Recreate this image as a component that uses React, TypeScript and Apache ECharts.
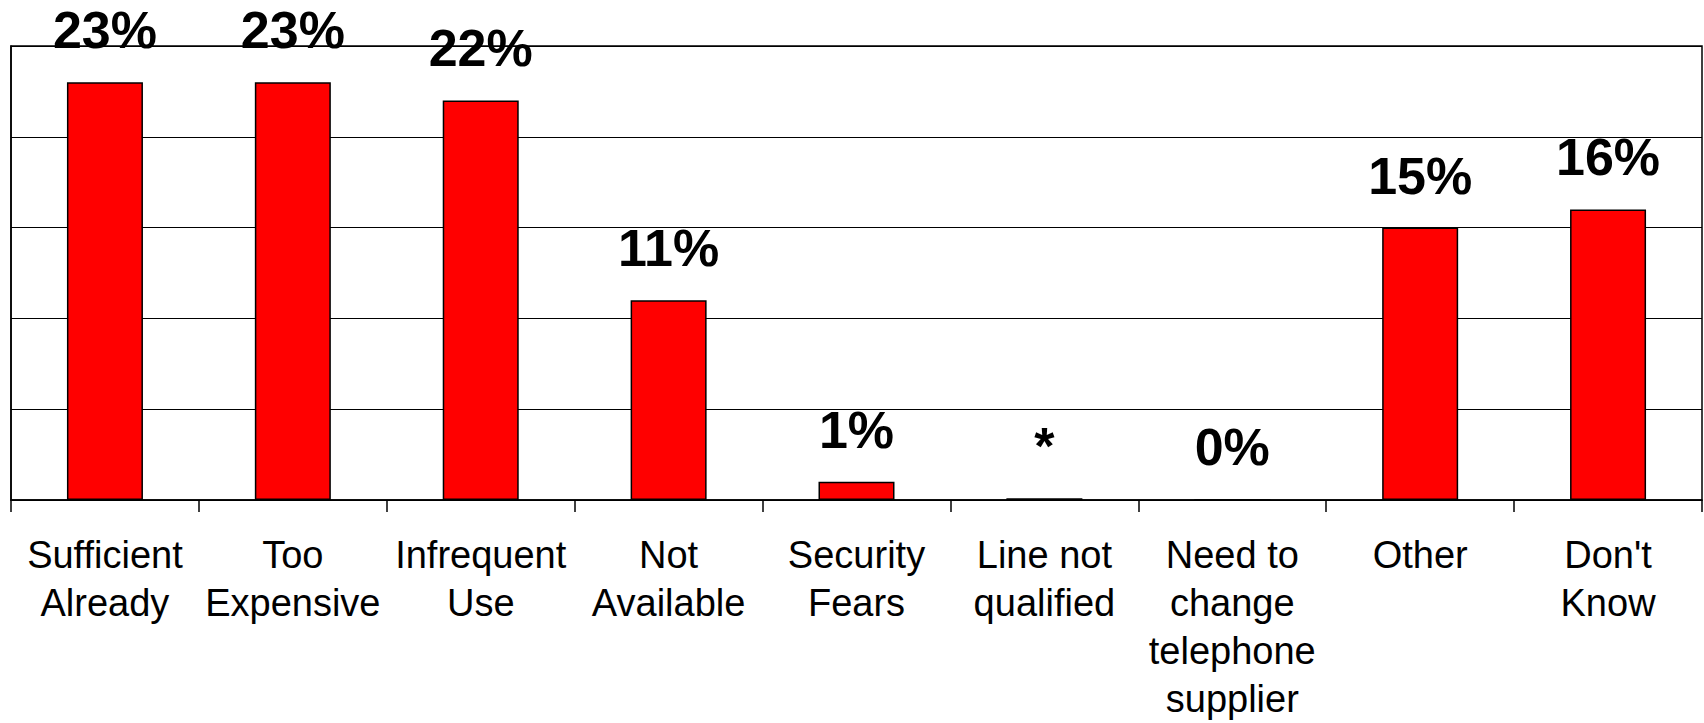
import React, { useEffect, useRef } from "react";
import * as echarts from "echarts";

const categories = [
  "Sufficient\nAlready",
  "Too\nExpensive",
  "Infrequent\nUse",
  "Not\nAvailable",
  "Security\nFears",
  "Line not\nqualified",
  "Need to\nchange\ntelephone\nsupplier",
  "Other",
  "Don't\nKnow",
];
const values = [23, 23, 22, 11, 1, 0.1, 0, 15, 16];
const valueLabels = ["23%", "23%", "22%", "11%", "1%", "*", "0%", "15%", "16%"];

export default function App() {
  const ref = useRef<HTMLDivElement>(null);
  useEffect(() => {
    if (!ref.current) return;
    const chart = echarts.init(ref.current, undefined, { renderer: "svg" });
    chart.setOption({
      animation: false,
      backgroundColor: "#ffffff",
      textStyle: { fontFamily: "'Liberation Sans', Arial, sans-serif" },
      grid: {
        left: 11,
        right: 2,
        top: 46,
        bottom: 221,
        show: true,
        borderColor: "#000",
        borderWidth: 1.5,
        containLabel: false,
      },
      xAxis: {
        type: "category",
        data: categories,
        axisLine: { show: true, lineStyle: { color: "#000", width: 1.5 } },
        axisTick: { show: true, length: 12, lineStyle: { color: "#000", width: 1.5 } },
        axisLabel: {
          interval: 0,
          color: "#000",
          fontSize: 38,
          lineHeight: 48,
          margin: 31,
          fontFamily: "'Liberation Sans', Arial, sans-serif",
        },
      },
      yAxis: {
        type: "value",
        min: 0,
        max: 25,
        interval: 5,
        axisLine: { show: true, lineStyle: { color: "#000", width: 1.5 } },
        axisTick: { show: false },
        axisLabel: { show: false },
        splitLine: { show: true, lineStyle: { color: "#000", width: 1.2 } },
      },
      series: [
        {
          type: "bar",
          data: values,
          barWidth: 76,
          itemStyle: { color: "#ff0000", borderColor: "#000", borderWidth: 1.5 },
          label: {
            show: true,
            position: "top",
            distance: 26,
            color: "#000",
            fontSize: 52,
            fontWeight: "bold",
            fontFamily: "'Liberation Sans', Arial, sans-serif",
            formatter: (p: any) => valueLabels[p.dataIndex],
          },
        },
      ],
    });
    return () => chart.dispose();
  }, []);
  return (
    <div
      ref={ref}
      style={{ position: "fixed", left: 0, top: 0, width: 1704, height: 723 }}
    />
  );
}
